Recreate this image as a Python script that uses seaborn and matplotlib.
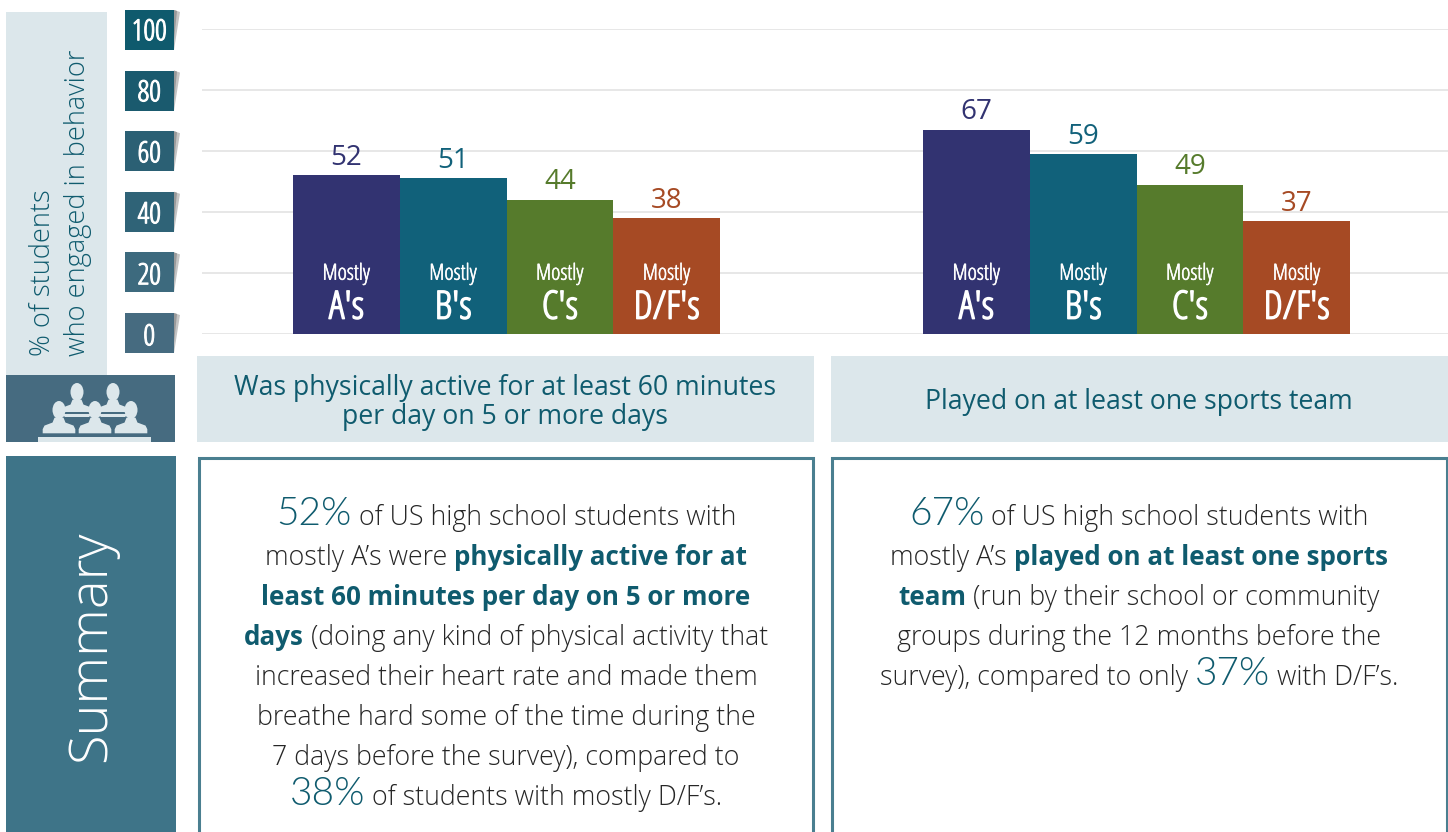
import matplotlib
matplotlib.use("Agg")
import matplotlib.pyplot as plt
import matplotlib.patheffects as pe
from matplotlib.patches import Rectangle, Polygon, Ellipse
import pandas as pd
import seaborn as sns

grades = ["A's", "B's", "C's", "D/F's"]
active_values = [52, 51, 44, 38]
sports_values = [67, 59, 49, 37]
grade_colors = ["#323371", "#11617a", "#567b2c", "#a64a24"]
y_ticks = [0, 20, 40, 60, 80, 100]
badge_colors = ["#466b80", "#3d6a7e", "#2f6377", "#2b6074", "#1a5a6e", "#0f5a6d"]
active_title = ["Was physically active for at least 60 minutes", "per day on 5 or more days"]
sports_title = ["Played on at least one sports team"]

# (text, style) runs for each line of the summary boxes
active_summary = [
    [("52%", "big"), (" of US high school students with", "body")],
    [("mostly A\u2019s were ", "body"), ("physically active for at", "bold")],
    [("least 60 minutes per day on 5 or more", "bold")],
    [("days", "bold"), (" (doing any kind of physical activity that", "body")],
    [("increased their heart rate and made them", "body")],
    [("breathe hard some of the time during the", "body")],
    [("7 days before the survey), compared to", "body")],
    [("38%", "big"), (" of students with mostly D/F\u2019s.", "body")],
]
sports_summary = [
    [("67%", "big"), (" of US high school students with", "body")],
    [("mostly A\u2019s ", "body"), ("played on at least one sports", "bold")],
    [("team", "bold"), (" (run by their school or community", "body")],
    [("groups during the 12 months before the", "body")],
    [("survey), compared to only ", "body"), ("37%", "big"), (" with D/F\u2019s.", "body")],
]

TEAL = "#0f5b6e"
PALE = "#dce7eb"
SLATE = "#466b80"
W, H = 1448, 832
sns.set_theme(style="white")
plt.rcParams["font.family"] = ["Open Sans", "DejaVu Sans"]

fig = plt.figure(figsize=(W / 100, H / 100), dpi=100, facecolor="white")

# background layer in pixel coordinates
bg = fig.add_axes([0, 0, 1, 1], zorder=0)
bg.set_xlim(0, W)
bg.set_ylim(H, 0)
bg.axis("off")


def box(x0, y0, x1, y1, **kw):
    bg.add_patch(Rectangle((x0, y0), x1 - x0, y1 - y0, **kw))


def thick(width):
    # the condensed face only comes in a light weight here
    return [pe.withStroke(linewidth=width, foreground="white")]


box(6, 12, 107, 375, color=PALE, lw=0)
box(6, 375, 175, 442, color=SLATE, lw=0)
box(6, 456, 176, 832, color="#3e7488", lw=0)
box(197, 356, 814, 442, color=PALE, lw=0)
box(831, 356, 1448, 442, color=PALE, lw=0)
box(199, 458, 813, 840, fc="white", ec="#4a7f90", lw=2.2)
box(832, 458, 1447, 840, fc="white", ec="#4a7f90", lw=2.2)

# y axis badges
for tick, col in zip(y_ticks, badge_colors):
    yc = 333 - tick * 3.03
    bg.add_patch(Polygon([(174, yc - 20), (180, yc - 18), (174, yc + 20)], color="#c4c4c4", lw=0))
    bg.add_patch(Polygon([(174, yc - 20), (177, yc - 19), (174, yc + 10)], color="#9a9a9a", lw=0))
    box(125, yc - 20, 174, yc + 20, color=col, lw=0)


# people icon
def person(cx, cy, bottom, z):
    bg.add_patch(Polygon([(cx - 5, cy + 7), (cx + 5, cy + 7), (cx + 7, cy + 12), (cx + 15, cy + 15),
                          (cx + 17, cy + 19), (cx + 17, bottom), (cx - 17, bottom), (cx - 17, cy + 19),
                          (cx - 15, cy + 15), (cx - 7, cy + 12)],
                         fc=PALE, ec=SLATE, lw=1, zorder=z))
    bg.add_patch(Ellipse((cx, cy), 13, 18, color=PALE, lw=0, zorder=z))


for cx in [77, 113]:
    person(cx, 392, 415, 3)
    box(cx - 17, 412, cx + 17, 414, color=SLATE, lw=0, zorder=3.5)
    box(cx - 17, 414, cx + 17, 417, color=PALE, lw=0, zorder=3.5)
for cx in [59, 95, 131]:
    person(cx, 410, 434, 4)
box(38, 437, 151, 442, color=PALE, lw=0, zorder=4)

bg.text(43, 356, "% of students", rotation=90, ha="center", va="bottom", fontsize=19.5, color=TEAL, fontweight=300)
bg.text(78, 356, "who engaged in behavior", rotation=90, ha="center", va="bottom", fontsize=19.5, color=TEAL, fontweight=300)
bg.text(91, 646, "Summary", rotation=90, ha="center", va="center", fontsize=39, color="white", fontweight=300)

for i, line in enumerate(active_title):
    bg.text(505, 388 + i * 29, line, ha="center", va="center", fontsize=19.2, color=TEAL)
bg.text(1139, 402, sports_title[0], ha="center", va="center", fontsize=19.2, color=TEAL)


def bar_panel(values, x0, x1, bar_left):
    ax = fig.add_axes([x0 / W, 1 - 334 / H, (x1 - x0) / W, 305 / H], zorder=1)
    ax.patch.set_alpha(0)
    df = pd.DataFrame({"grade": grades, "value": values})
    sns.barplot(data=df, x="grade", y="value", hue="grade", palette=grade_colors, width=1,
                saturation=1, legend=False, linewidth=0, ax=ax, zorder=2)
    unit = 106.75
    ax.set_xlim(-0.5 - (bar_left - x0) / unit, 3.5 + (x1 - bar_left - 4 * unit) / unit)
    ax.set_ylim(0, 100)
    ax.set_xlabel("")
    ax.set_ylabel("")
    ax.set_xticks([])
    ax.set_yticks(y_ticks)
    ax.grid(axis="y", color="#e3e3e3", lw=1.2)
    ax.set_axisbelow(True)
    sns.despine(ax=ax, left=True, bottom=True)
    for cont, col in zip(ax.containers, grade_colors):
        ax.bar_label(cont, padding=2.5, fontsize=20, color=col)
    for i, g in enumerate(grades):
        ax.text(i, 19.6, "Mostly", ha="center", va="center", color="white", fontsize=16,
                stretch="condensed", path_effects=thick(0.4))
        ax.text(i, 8.4, g.replace("'", "\u2032"), ha="center", va="center", color="white", fontsize=28,
                stretch="condensed", path_effects=thick(1.1))
    return ax


ax1 = bar_panel(active_values, 202, 832, 293)
ax2 = bar_panel(sports_values, 832, 1448, 923)
ax2.set_yticklabels([])
ax2.tick_params(axis="y", length=0)
ax1.tick_params(axis="y", length=0, pad=38, labelsize=21, labelcolor="white")
ax1.set_yticklabels([str(t) for t in y_ticks], stretch="condensed", ha="center", path_effects=thick(0.8))

STYLES = {
    "body": dict(fontsize=19.3, color="#262626", fontweight=300),
    "bold": dict(fontsize=18.7, color=TEAL, fontweight="bold"),
    "big": dict(fontsize=28, color=TEAL, fontweight=300, family="Lato"),
}


def summary(lines, xc, y_first, step):
    renderer = fig.canvas.get_renderer()
    for n, runs in enumerate(lines):
        items = [bg.text(0, y_first + n * step, txt.replace(" ", "\u00a0"), ha="left", va="baseline", **STYLES[st])
                 for txt, st in runs]
        widths = [t.get_window_extent(renderer).width for t in items]
        x = xc - sum(widths) / 2
        for t, w in zip(items, widths):
            t.set_x(x)
            x += w


summary(active_summary, 506, 525, 40)
summary(sports_summary, 1139, 525, 40)

fig.savefig("out.png", dpi=100)
